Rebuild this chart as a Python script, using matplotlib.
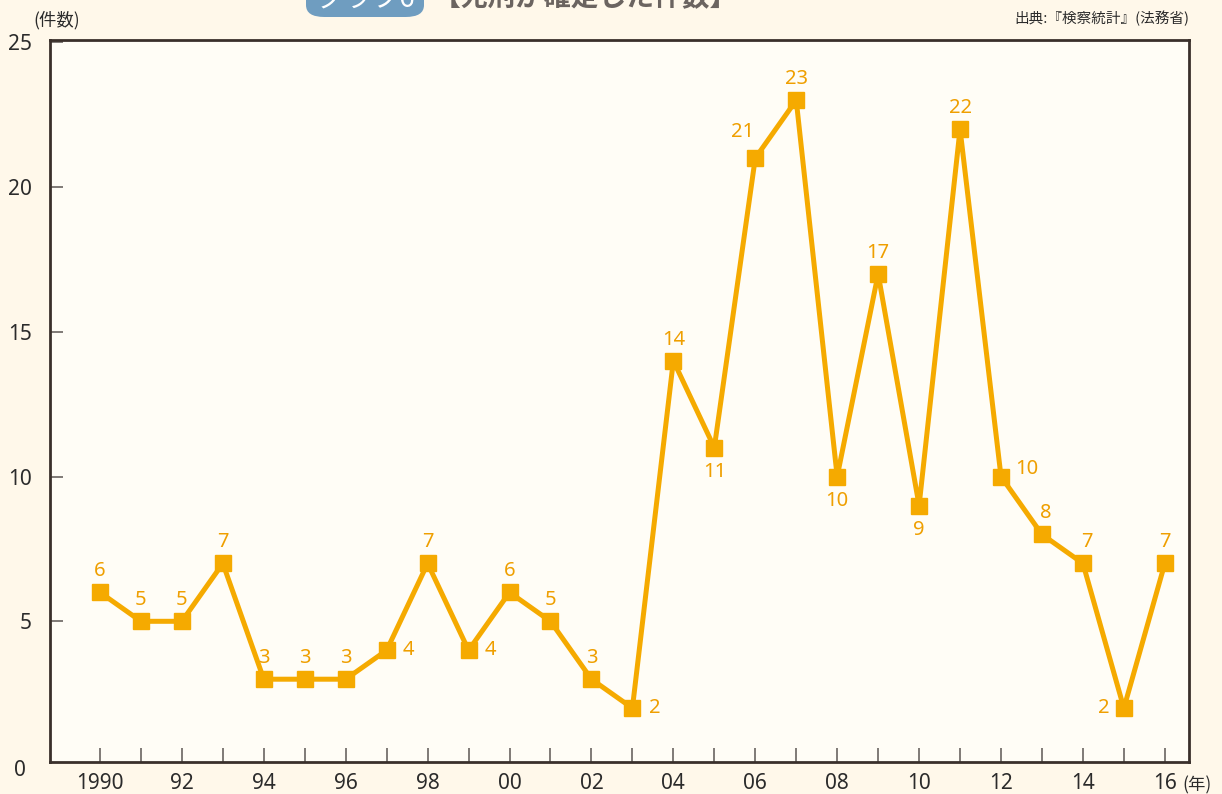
import matplotlib.pyplot as plt
from matplotlib.patches import FancyBboxPatch

plt.rcParams['font.family'] = ['Noto Sans CJK JP', 'DejaVu Sans']

# データ: 死刑が確定した件数(検察統計)
years = list(range(1990, 2017))
counts = [6, 5, 5, 7, 3, 3, 3, 4, 7, 4, 6, 5, 3, 2, 14, 11, 21, 23, 10, 17, 9, 22, 10, 8, 7, 2, 7]
# ラベルの置き方 (u=上, d=下, r=右, l=左, ul=左上, ur=右上, us=上やや右)
label_pos = ["u", "u", "u", "u", "u", "u", "u", "r", "u", "r", "u", "u", "u", "r",
             "u", "d", "ul", "u", "d", "u", "d", "u", "ur", "us", "us", "l", "u"]
xtick_years = [1990, 1992, 1994, 1996, 1998, 2000, 2002, 2004, 2006, 2008, 2010, 2012, 2014, 2016]
xtick_labels = ["1990", "92", "94", "96", "98", "00", "02", "04", "06", "08", "10", "12", "14", "16"]
yticks = [0, 5, 10, 15, 20, 25]

ORANGE = "#F5AA00"
LABEL_C = "#EF9F00"
BG = "#FFF8EA"
AX_BG = "#FFFDF6"
FRAME = "#3A302B"
TXT = "#2B2B2B"
NUM_FONT = ["Noto Sans", "DejaVu Sans"]

fig = plt.figure(figsize=(12.22, 7.94), dpi=100, facecolor=BG)
ax = fig.add_axes([50 / 1222, 32 / 794, 1139 / 1222, 722 / 794])
ax.set_facecolor(AX_BG)

ax.plot(years, counts, color=ORANGE, lw=3.6, marker="s", ms=11, mfc=ORANGE, mec=ORANGE,
        zorder=3, clip_on=False)

# ずらし量 (ピクセル)
offsets = {"u": (0, 21), "d": (0, -24), "r": (22, 0), "l": (-20, 0),
           "ul": (-13, 26), "ur": (26, 8), "us": (4, 21)}
for x, y, p in zip(years, counts, label_pos):
    dx, dy = offsets[p]
    ax.annotate(str(y), (x, y), xytext=(dx, dy), textcoords="offset pixels",
                ha="center", va="center", color=LABEL_C, fontsize=14.5,
                fontweight="semibold", family=NUM_FONT)

# 0 は枠の下端よりわずかに下にある
ax.set_xlim(1988.78, 2016.59)
ax.set_ylim(0.14, 25.08)
ax.set_xticks(years, minor=True)
ax.set_xticks(xtick_years)
ax.set_xticklabels(xtick_labels, family=NUM_FONT)
ax.set_yticks(yticks[1:])
ax.set_yticklabels([str(v) for v in yticks[1:]], family=NUM_FONT)
ax.tick_params(axis="x", which="both", direction="in", length=10, width=1.2, color="#6A6460",
               labelsize=15, labelcolor=TXT, pad=8)
ax.tick_params(axis="y", direction="in", length=9, width=1.2, color="#6A6460",
               labelsize=15, labelcolor=TXT, pad=13)
ax.annotate(str(yticks[0]), (0, yticks[0]), xycoords=ax.get_yaxis_transform(),
            xytext=(-30, -4), textcoords="offset pixels", ha="center", va="center",
            fontsize=15, color=TXT, family=NUM_FONT, annotation_clip=False)
for s in ax.spines.values():
    s.set_color(FRAME)
    s.set_linewidth(2)

# 見出し(上端で切れている)
box = FancyBboxPatch((306 / 1222, 777 / 794), 118 / 1222, 40 / 794,
                     boxstyle="round,pad=0,rounding_size=0.015", transform=fig.transFigure,
                     facecolor="#6F9DC0", edgecolor="none")
fig.patches.append(box)
fig.text(366 / 1222, 794 / 794, "グラフ6", color="white", fontsize=20, ha="center", va="center")
fig.text(433 / 1222, 796 / 794, "【死刑が確定した件数】", color="#6B6460", fontsize=20,
         fontweight="bold", ha="left", va="center")

fig.text(33 / 1222, 774 / 794, "(件数)", fontsize=12.5, color=TXT, ha="left", va="center")
fig.text(1189 / 1222, 776 / 794, "出典:『検察統計』(法務省)", fontsize=10.5, color=TXT,
         ha="right", va="center")
fig.text(1182 / 1222, 9 / 794, "(年)", fontsize=12.5, color=TXT, ha="left", va="center")

fig.savefig("out.png", dpi=100, facecolor=BG)
